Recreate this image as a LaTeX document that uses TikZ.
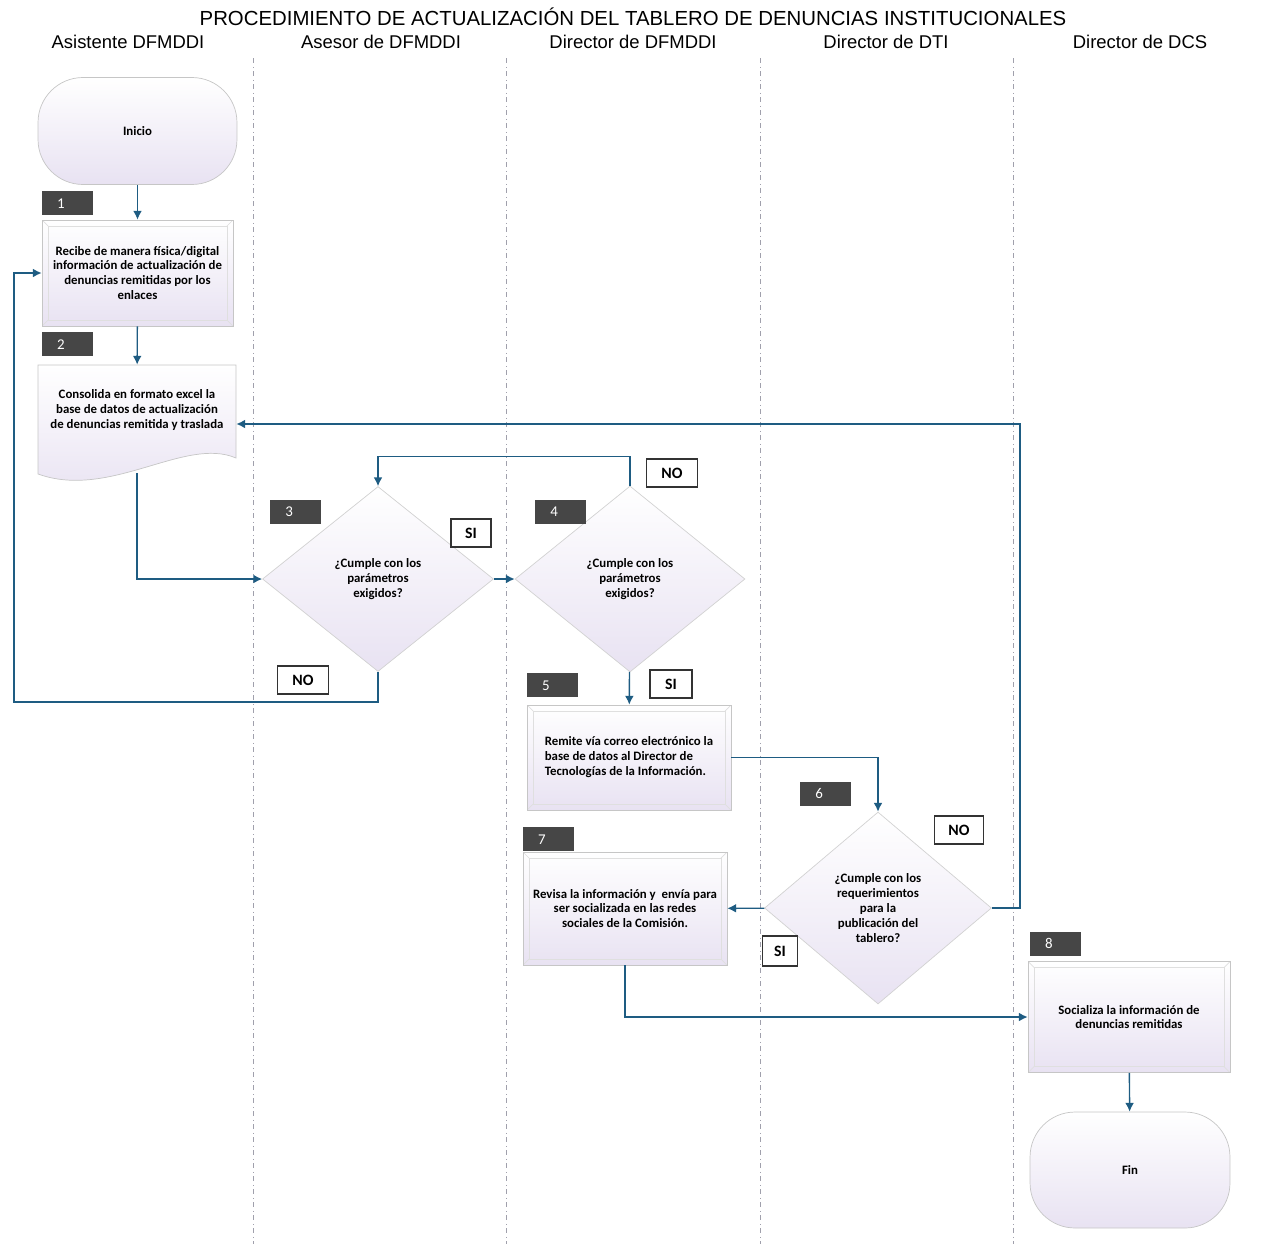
\documentclass[tikz,border=0pt]{standalone}
\usepackage{fontspec}
\setmainfont{Liberation Sans}
\newfontfamily\boxfont{Carlito}
\usetikzlibrary{arrows.meta,positioning,shapes.geometric,calc}
\definecolor{flowblue}{RGB}{30,92,130}
\definecolor{boxlav}{RGB}{232,226,242}
\definecolor{lanegray}{RGB}{160,160,172}
\definecolor{tagdark}{RGB}{70,70,70}

\begin{document}
\begin{tikzpicture}[
    x=0.02cm, y=-0.02cm,
    lane/.style={lanegray, dash dot, line width=0.5pt},
    header/.style={font=\fontsize{10.5}{12}\selectfont},
    task/.style={draw=gray!45, top color=white, bottom color=boxlav, inner sep=0pt, align=center,
        font=\boxfont\bfseries\fontsize{7.3}{8.5}\selectfont,
        path picture={
            \draw[gray!25] ($(path picture bounding box.north west)+(6,6)$) rectangle ($(path picture bounding box.south east)+(-6,-6)$);
            \draw[gray!25] (path picture bounding box.north west) -- ++(6,6)
                (path picture bounding box.north east) -- ++(-6,6)
                (path picture bounding box.south west) -- ++(6,-6)
                (path picture bounding box.south east) -- ++(-6,-6);
        }},
    term/.style={draw=gray!45, top color=white, bottom color=boxlav, rounded corners=0.9cm,
        font=\boxfont\bfseries\fontsize{7.3}{8.5}\selectfont},
    decision/.style={diamond, draw=gray!35, top color=white, bottom color=boxlav, inner sep=0pt,
        align=center, font=\boxfont\bfseries\fontsize{7.3}{8.5}\selectfont},
    tag/.style={fill=tagdark, text=white, minimum width=1.02cm, minimum height=0.48cm,
        text width=0.42cm, inner xsep=0.3cm, inner ysep=0pt, align=left,
        font=\boxfont\fontsize{8.5}{8.5}\selectfont},
    answer/.style={draw=black!80, line width=0.8pt, fill=white, minimum height=0.56cm,
        inner sep=0pt, font=\boxfont\bfseries\fontsize{9}{9}\selectfont},
    flow/.style={-{Latex[length=5pt,width=5pt]}, flowblue, line width=0.8pt}
]
    \useasboundingbox (0,0) rectangle (1266,1244);

    % title and lanes
    \node[font=\fontsize{11.6}{13}\selectfont] (title) at (633,17) {PROCEDIMIENTO DE ACTUALIZACIÓN DEL TABLERO DE DENUNCIAS INSTITUCIONALES};
    \node[header] (h1) at (128,42) {Asistente DFMDDI};
    \node[header] (h2) at (381,42) {Asesor de DFMDDI};
    \node[header] (h3) at (633,42) {Director de DFMDDI};
    \node[header] (h4) at (886,42) {Director de DTI};
    \node[header] (h5) at (1140,42) {Director de DCS};
    \foreach \lx in {253,506,760,1013}
        \draw[lane] (\lx,58) -- (\lx,1244);

    % Asistente DFMDDI
    \node[term, minimum width=3.98cm, minimum height=2.14cm] (ini) at (137.5,131) {Inicio};
    \node[task, minimum width=3.82cm, minimum height=2.12cm] (b1) at (137.5,273)
        {Recibe de manera física/digital\\información de actualización de\\denuncias remitidas por los\\enlaces};
    \shade[top color=white, bottom color=boxlav, draw=gray!45]
        (38,365) -- (236,365) -- (236,458)
        .. controls (185,436) and (110,500) .. (38,474) -- cycle;
    \node[inner sep=0pt, minimum width=3.96cm, minimum height=1.8cm, align=center,
        font=\boxfont\bfseries\fontsize{7.3}{8.5}\selectfont] (b2) at (137,410)
        {Consolida en formato excel la\\base de datos de actualización\\de denuncias remitida y traslada};
    \node[tag, above right=0.08cm and 0cm of b1.north west] (t1) {1};
    \node[tag, above right=0.16cm and 0.08cm of b2.north west] (t2) {2};

    % Asesor / Director de DFMDDI
    \node[decision, minimum width=4.62cm, minimum height=3.7cm] (d3) at (378,579)
        {¿Cumple con los\\parámetros\\exigidos?};
    \node[decision, minimum width=4.6cm, minimum height=3.72cm] (d4) at (630,579)
        {¿Cumple con los\\parámetros\\exigidos?};
    \node[tag, anchor=south west] (t3) at (270,524) {3};
    \node[tag, anchor=south west] (t4) at (535,524) {4};
    \node[task, minimum width=4.08cm, minimum height=2.1cm, align=left] (b5) at (629,757.5)
        {Remite vía correo electrónico la\\base de datos al Director de\\Tecnologías de la Información.};
    \node[tag, above right=0.14cm and 0cm of b5.north west] (t5) {5};
    \node[task, minimum width=4.08cm, minimum height=2.26cm] (b7) at (625,908.5)
        {Revisa la información y \ envía para\\ser socializada en las redes\\sociales de la Comisión.};
    \node[tag, above right=0cm and 0cm of b7.north west] (t7) {7};

    % Director de DTI
    \node[decision, minimum width=4.54cm, minimum height=3.84cm] (d6) at (878,908)
        {¿Cumple con los\\requerimientos\\para la\\publicación del\\tablero?};
    \node[tag, anchor=south west] (t6) at (800,806) {6};

    % Director de DCS
    \node[task, minimum width=4.04cm, minimum height=2.22cm] (b8) at (1129,1017)
        {Socializa la información de\\denuncias remitidas};
    \node[tag, above right=0.1cm and 0.04cm of b8.north west] (t8) {8};
    \node[term, minimum width=4.0cm, minimum height=2.32cm] (fin) at (1130,1170) {Fin};

    % answers
    \node[answer, minimum width=0.8cm] (si3) at (471,533) {SI};
    \node[answer, minimum width=1.02cm] (no3) at (303,680) {NO};
    \node[answer, minimum width=1.02cm] (no4) at (672,473) {NO};
    \node[answer, minimum width=0.84cm] (si4) at (671,684) {SI};
    \node[answer, minimum width=0.98cm] (no6) at (959,830) {NO};
    \node[answer, minimum width=0.7cm, minimum height=0.6cm] (si6) at (780,951) {SI};

    % connectors
    \coordinate (loopL) at (14,702);
    \draw[flow] (ini) -- (b1);
    \draw[flow] (b1) -- (b2);
    \draw[flow] (137,473) |- (d3.west);
    \draw[flow] (d3) -- (d4);
    \draw[flow] (d4.north) -- ++(0,-29) -| (d3.north);
    \draw[flow] (d3.south) |- (loopL) |- (b1.west);
    \draw[flow] (d4) -- (b5);
    \draw[flow] (b5.east) -| (d6.north);
    \draw[flow] (d6) -- (b7);
    \draw[flow] (d6.east) -- ++(28,0) |- ($(b2.east)+(0,14)$);
    \draw[flow] (b7.south) |- (b8.west);
    \draw[flow] (b8) -- (fin);
\end{tikzpicture}
\end{document}
